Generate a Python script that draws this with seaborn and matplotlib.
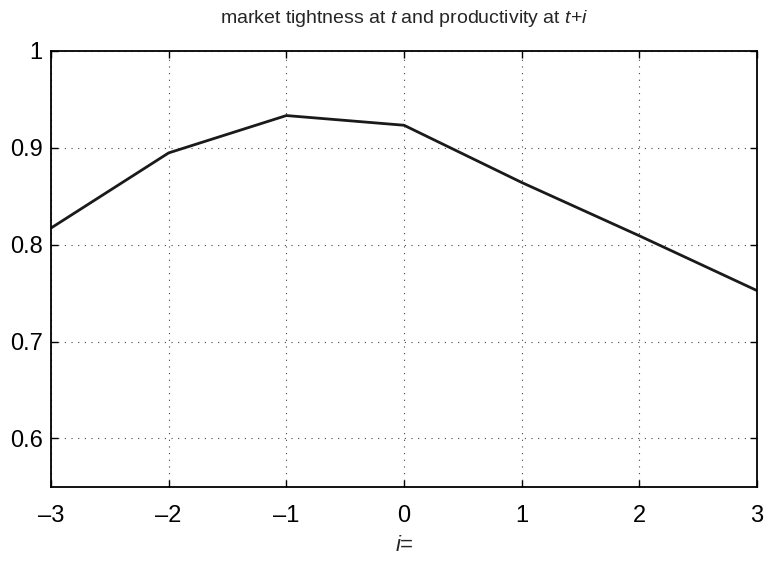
import matplotlib
matplotlib.use("Agg")
import matplotlib.pyplot as plt
import seaborn as sns
import pandas as pd

lags = [-3, -2, -1, 0, 1, 2, 3]
corr = [0.817, 0.8945, 0.933, 0.923, 0.864, 0.809, 0.7525]
xticks = [-3, -2, -1, 0, 1, 2, 3]
yticks = [0.6, 0.7, 0.8, 0.9, 1.0]
yticklabels = ["0.6", "0.7", "0.8", "0.9", "1"]

sns.set_theme(style="white")
plt.rcParams['font.family'] = ['Liberation Sans', 'DejaVu Sans']
plt.rcParams['mathtext.fontset'] = 'custom'
plt.rcParams['mathtext.it'] = 'Liberation Sans:italic'
plt.rcParams['mathtext.rm'] = 'Liberation Sans'

df = pd.DataFrame({"i": lags, "corr": corr})

fig = plt.figure(figsize=(7.67, 5.62), dpi=100)
ax = fig.add_axes([0.0665, 0.1335, 0.9205, 0.7765])
sns.lineplot(data=df, x="i", y="corr", ax=ax, color="#1a1a1a", linewidth=2.0)

ax.set_xlim(-3, 3)
ax.set_ylim(0.55, 1.0)
ax.set_xticks(xticks)
ax.set_xticklabels([str(t).replace("-", "\u2013") for t in xticks])
ax.set_yticks(yticks)
ax.set_yticklabels(yticklabels)
ax.tick_params(axis="both", direction="in", length=5, width=1, labelsize=17, colors="black",
               top=True, right=True, bottom=True, left=True)
ax.tick_params(axis="x", pad=13)
ax.tick_params(axis="y", pad=6)
ax.grid(True, linestyle=(0, (1, 5)), color="#444444", linewidth=0.8)
for s in ax.spines.values():
    s.set_color("black")
    s.set_linewidth(1.3)
ax.set_xlabel("$i$=", fontsize=16, labelpad=6)
ax.set_ylabel("")
ax.set_title("market tightness at $t$ and productivity at $t$+$i$", fontsize=14, pad=20)

fig.savefig("out.png", dpi=100)
